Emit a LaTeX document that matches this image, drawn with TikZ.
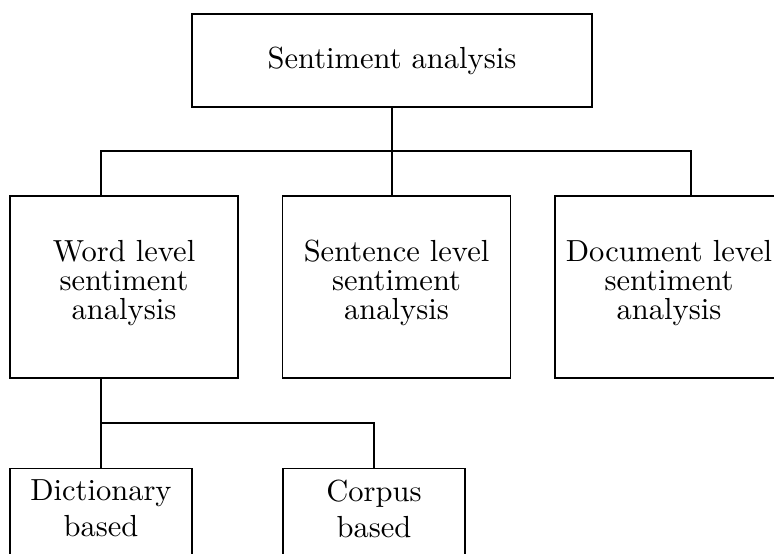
\documentclass[tikz,border=0pt]{standalone}
\begin{document}
\begin{tikzpicture}[x=0.3279pt,y=-0.3279pt,
  box/.style={draw, line width=0.4pt, inner sep=0pt, align=center},
  rootbox/.style={box, minimum width=131.16pt, minimum height=30.49pt},
  levelbox/.style={box, minimum width=74.76pt, minimum height=59.68pt,
    text depth=4.95pt, font={\fontsize{10}{9.5}\selectfont}},
  leafbox/.style={box, anchor=north, minimum width=59.68pt, inner ysep=3.67pt,
    text depth=14pt, font={\fontsize{10}{11.8}\selectfont}},
  link/.style={draw, line width=0.4pt}]
  \useasboundingbox (0,0) rectangle (774,553);
  \clip (0,0) rectangle (774,553);

  % root of the taxonomy
  \node[rootbox] (root) at (392,60.5) {Sentiment analysis};

  % analysis levels
  \node[levelbox] (word) at (124,287) {Word level\\sentiment\\analysis};
  \node[levelbox] (sent) at (396.5,287) {Sentence level\\sentiment\\analysis};
  \node[levelbox] (doc)  at (669,287) {Document level\\sentiment\\analysis};

  % word-level approaches
  \node[leafbox] (dict) at (101,468) {Dictionary\\based};
  \node[leafbox] (corp) at (374,468) {Corpus\\based};

  % bus joining the root to the levels
  \coordinate (busL) at (101,151);
  \coordinate (busR) at (691,151);
  \path[link] (root.south) -- (root.south |- busL);
  \path[link] (busL |- word.north) -- (busL) -- (busR) -- (busR |- doc.north);
  \path[link] (root.south |- busL) -- (root.south |- sent.north);

  % bus joining word level to its approaches
  \coordinate (sub) at (101,423);
  \path[link] (sub |- word.south) -- (sub) -- (sub -| corp.north) -- (corp.north);
  \path[link] (sub) -- (dict.north);
\end{tikzpicture}
\end{document}
